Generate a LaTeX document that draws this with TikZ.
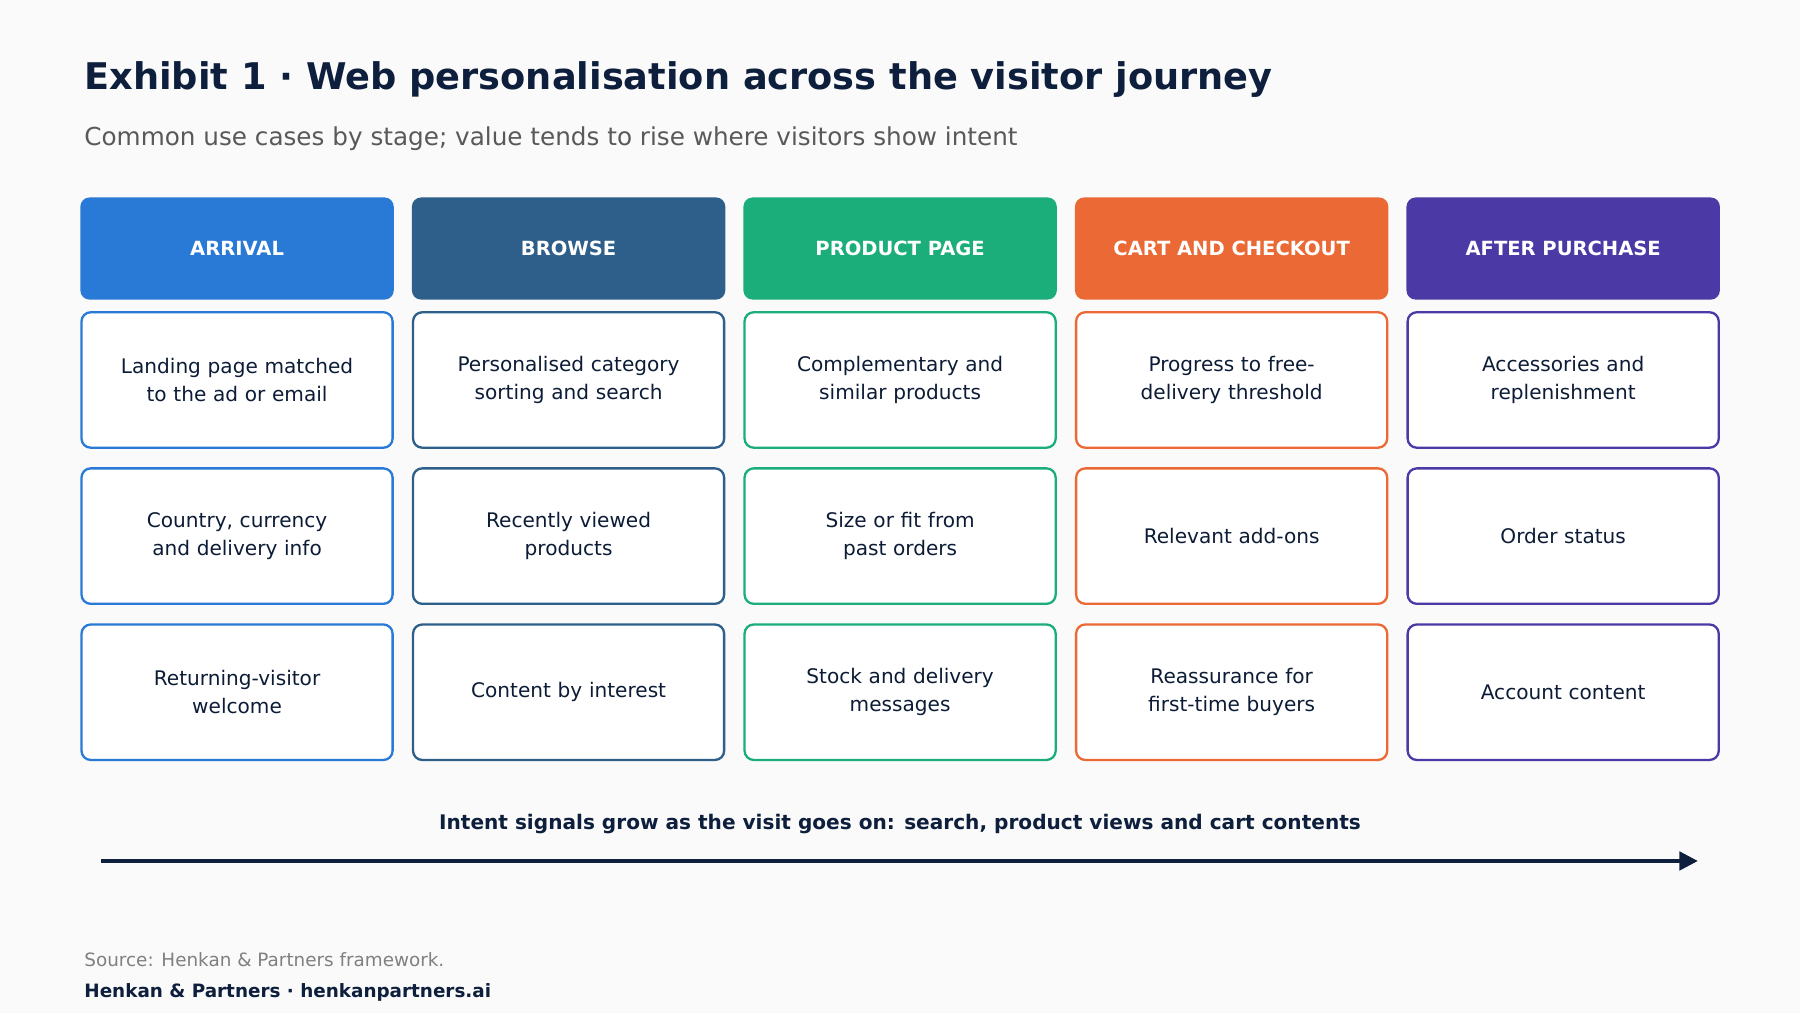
\documentclass[tikz,border=0pt]{standalone}
\usepackage{fontspec}
\setmainfont{DejaVu Sans}
\usetikzlibrary{arrows.meta}
\definecolor{cA}{HTML}{2979D6}
\definecolor{cB}{HTML}{2E5F8A}
\definecolor{cC}{HTML}{1BAE7A}
\definecolor{cD}{HTML}{EB6935}
\definecolor{cE}{HTML}{4B39A5}
\definecolor{ink}{HTML}{0D1F3C}
\definecolor{bg}{HTML}{FAFAFA}
\tikzset{
 hdr/.style={rounded corners=8pt,minimum width=273pt,minimum height=89pt,inner sep=0pt,font=\fontsize{17}{20}\selectfont\bfseries,text=white},
 cell/.style={rounded corners=8pt,draw=#1,line width=2pt,fill=white,minimum width=271pt,minimum height=118pt,inner sep=0pt,align=center,text width=250pt,font=\fontsize{17.5}{24.5}\selectfont,text=ink!90!black}
}
\begin{document}
\begin{tikzpicture}[x=1pt,y=-1pt]
\fill[bg] (0,0) rectangle (1568,882);
\useasboundingbox (0,0) rectangle (1568,882);
\node[anchor=base west,text=ink,font=\fontsize{32}{38}\selectfont\bfseries] (title) at (70,78) {Exhibit 1 · Web personalisation across the visitor journey};
\node[anchor=base west,text=black!65,font=\fontsize{21.5}{26}\selectfont] (sub) at (70,127) {Common use cases by stage; value tends to rise where visitors show intent};
\foreach \i/\c/\h/\a/\b/\d in {
 0/cA/ARRIVAL/{Landing page matched\\to the ad or email}/{Country, currency\\and delivery info}/{Returning-visitor\\welcome},
 1/cB/BROWSE/{Personalised category\\sorting and search}/{Recently viewed\\products}/{Content by interest},
 2/cC/PRODUCT PAGE/{Complementary and\\similar products}/{Size or fit from\\past orders}/{Stock and delivery\\messages},
 3/cD/CART AND CHECKOUT/{Progress to free-\\delivery threshold}/{Relevant add-ons}/{Reassurance for\\first-time buyers},
 4/cE/AFTER PURCHASE/{Accessories and\\replenishment}/{Order status}/{Account content}}{
 \pgfmathsetmacro\xx{206.5+288.8*\i}
 \node[hdr,fill=\c] (h\i) at (\xx,216.5) {\h};
 \node[cell=\c] (r1\i) at (\xx,331) {\a};
 \node[cell=\c] (r2\i) at (\xx,467) {\b};
 \node[cell=\c] (r3\i) at (\xx,603) {\d};
}
\node[text=ink,font=\fontsize{17.5}{21}\selectfont\bfseries] (lab) at (784,718) {Intent signals grow as the visit goes on: search, product views and cart contents};
\coordinate (s) at (88,750);
\coordinate (e) at (1479,750);
\draw[ink,line width=3pt,-{Triangle[length=16pt,width=16pt]}] (s) -- (e);
\node[anchor=base west,text=black!50,font=\fontsize{16}{19}\selectfont] (src) at (70,842) {Source: Henkan \& Partners framework.};
\node[anchor=base west,text=ink,font=\fontsize{16}{19}\selectfont\bfseries] (ft) at (70,869) {Henkan \& Partners · henkanpartners.ai};
\end{tikzpicture}
\end{document}
